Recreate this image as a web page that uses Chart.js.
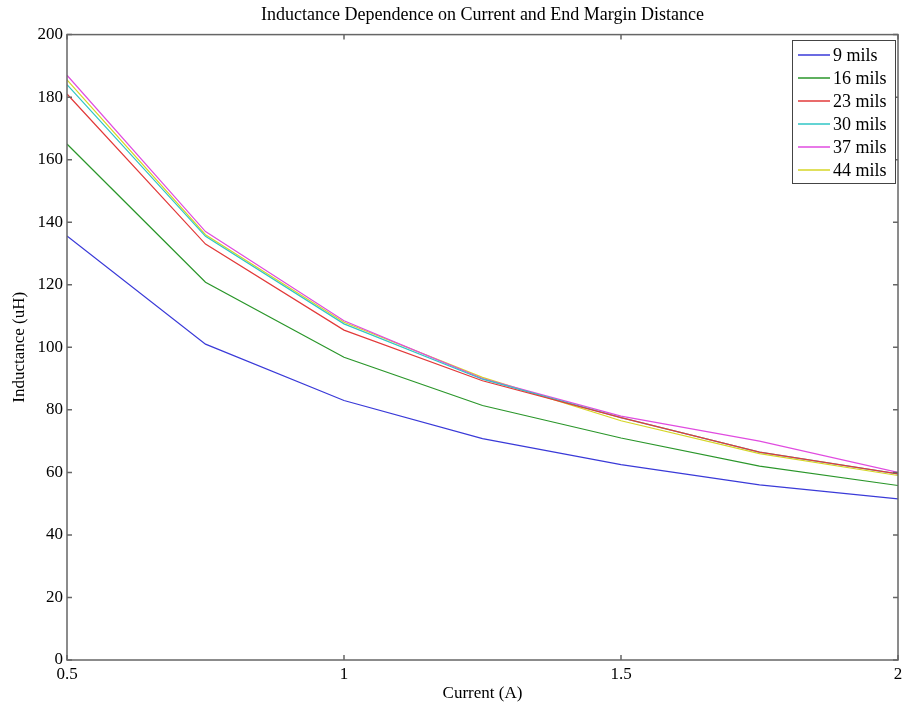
<!DOCTYPE html>
<html>
<head>
<meta charset="utf-8">
<script src="https://cdn.jsdelivr.net/npm/chart.js@4/dist/chart.umd.min.js"></script>
<style>
html, body { margin: 0; padding: 0; background: #fff; }
</style>
</head>
<body>
<canvas id="chInd" width="903" height="710"></canvas>
<script>
// data
var currents = [0.5, 0.75, 1, 1.25, 1.5, 1.75, 2];
var mils9  = [135.6, 101, 83, 70.8, 62.5, 56, 51.5];
var mils16 = [165, 120.8, 96.8, 81.4, 71, 62, 55.8];
var mils23 = [181, 133, 105.5, 89.3, 77.5, 66.5, 59.5];
var mils30 = [184, 135.5, 107.5, 89.8, 77.5, 66.5, 59.5];
var mils37 = [187, 137, 108.5, 90, 78, 70, 60];
var mils44 = [185.5, 136, 108, 90.4, 76.5, 66, 59];
var seriesNames = ['9 mils', '16 mils', '23 mils', '30 mils', '37 mils', '44 mils'];

// matlab-ish colours
var colors = ['#3a3ad8', '#2a962a', '#e23a3a', '#2fc6c6', '#e04ce0', '#d6d626'];
var serif = '"Liberation Serif", "Times New Roman", serif';
var boxColor = '#666';

function pts(vals) {
  return vals.map(function(v, i) { return {x: currents[i], y: v}; });
}

var allSeries = [mils9, mils16, mils23, mils30, mils37, mils44];
var datasets = allSeries.map(function(s, i) {
  return {
    label: seriesNames[i],
    data: pts(s),
    borderColor: colors[i],
    backgroundColor: colors[i],
    borderWidth: 1.2,
    pointRadius: 0,
    tension: 0,
    fill: false
  };
});

/* axes box with inward ticks, matlab style */
var boxTicks = {
  id: 'boxTicks',
  afterDatasetsDraw: function(chart) {
    var ctx = chart.ctx, a = chart.chartArea;
    var xs = chart.scales.x, ys = chart.scales.y;
    var len = 5;
    ctx.save();
    ctx.strokeStyle = boxColor;
    ctx.lineWidth = 1.5;
    ctx.strokeRect(a.left, a.top, a.right - a.left, a.bottom - a.top);
    ctx.beginPath();
    xs.ticks.forEach(function(t) {
      var px = xs.getPixelForValue(t.value);
      ctx.moveTo(px, a.bottom); ctx.lineTo(px, a.bottom - len);
      ctx.moveTo(px, a.top); ctx.lineTo(px, a.top + len);
    });
    ys.ticks.forEach(function(t) {
      var py = ys.getPixelForValue(t.value);
      ctx.moveTo(a.left, py); ctx.lineTo(a.left + len, py);
      ctx.moveTo(a.right, py); ctx.lineTo(a.right - len, py);
    });
    ctx.stroke();
    ctx.restore();
  }
};

/* legend box in the top right corner */
var boxLegend = {
  id: 'boxLegend',
  afterDraw: function(chart) {
    var ctx = chart.ctx;
    var x0 = 792, y0 = 40, w = 103, h = 143;
    ctx.save();
    ctx.fillStyle = '#fff';
    ctx.fillRect(x0, y0, w, h);
    ctx.lineWidth = 1;
    ctx.strokeStyle = '#444';
    ctx.strokeRect(x0 + 0.5, y0 + 0.5, w, h);
    ctx.font = '18px ' + serif;
    ctx.textBaseline = 'middle';
    chart.data.datasets.forEach(function(ds, i) {
      var y = y0 + 15 + i * 23;
      ctx.beginPath();
      ctx.lineWidth = 1.5;
      ctx.strokeStyle = colors[i];
      ctx.moveTo(x0 + 6, y);
      ctx.lineTo(x0 + 38, y);
      ctx.stroke();
      ctx.fillStyle = '#000';
      ctx.fillText(ds.label, x0 + 41, y + 1);
    });
    ctx.restore();
  }
};

var chInd = document.getElementById('chInd');
new Chart(chInd, {
  type: 'line',
  data: { datasets: datasets },
  options: {
    responsive: false,
    animation: false,
    devicePixelRatio: 1,
    layout: { padding: { left: 0, right: 5, top: 0, bottom: 0 } },
    plugins: {
      legend: { display: false },
      tooltip: { enabled: false },
      title: {
        display: true,
        fullSize: false,
        text: 'Inductance Dependence on Current and End Margin Distance',
        color: '#000',
        font: { family: serif, size: 18, weight: 'normal' },
        padding: { top: 4, bottom: 9 }
      }
    },
    scales: {
      x: {
        type: 'linear',
        min: 0.5,
        max: 2,
        grid: { display: false, drawTicks: false },
        border: { display: false },
        ticks: {
          stepSize: 0.5,
          color: '#000',
          padding: 4,
          maxRotation: 0,
          font: { family: serif, size: 17 },
          callback: function(v) { return String(+v.toFixed(2)); }
        },
        title: {
          display: true,
          text: 'Current (A)',
          color: '#000',
          font: { family: serif, size: 17 },
          padding: { top: 0, bottom: 6 }
        },
        afterFit: function(s) { s.height = 50; s.paddingRight = 0; }
      },
      y: {
        min: 0,
        max: 200,
        grid: { display: false, drawTicks: false },
        border: { display: false },
        ticks: {
          stepSize: 20,
          color: '#000',
          padding: 4,
          font: { family: serif, size: 17 }
        },
        title: {
          display: true,
          text: 'Inductance (uH)',
          color: '#000',
          font: { family: serif, size: 17 },
          padding: { top: 9, bottom: 0 }
        },
        afterFit: function(s) { s.width = 67; }
      }
    }
  },
  plugins: [boxTicks, boxLegend]
});
</script>
</body>
</html>
